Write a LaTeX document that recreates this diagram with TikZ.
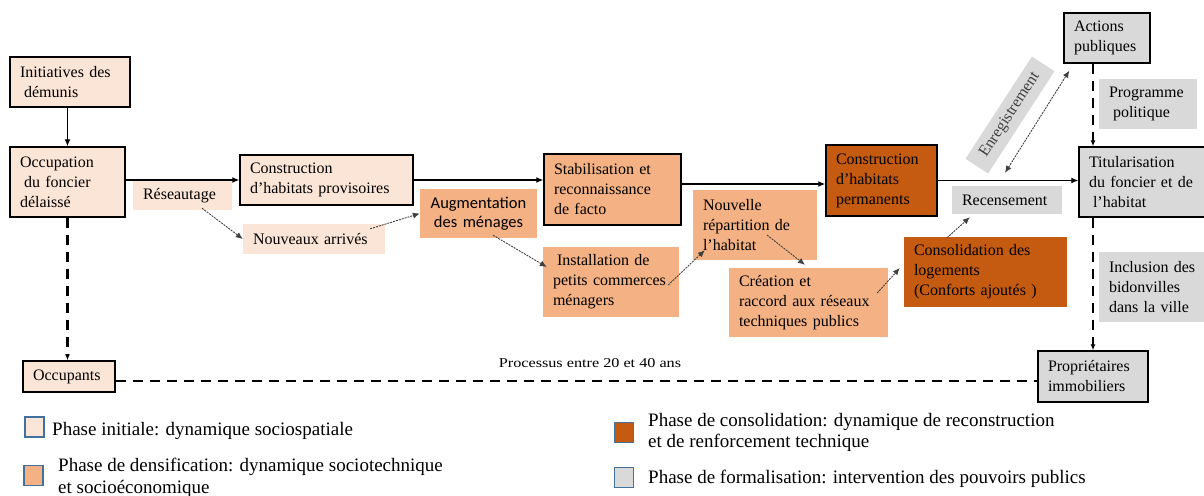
\documentclass[tikz,border=0pt]{standalone}
\usepackage{fontspec}
\setmainfont{Liberation Serif}
\newfontfamily\calib{Carlito}
\newfontfamily\widefont[FakeStretch=1.2]{Liberation Serif}
\usetikzlibrary{arrows.meta,calc}
\definecolor{cInit}{HTML}{FBE5D6}
\definecolor{cDens}{HTML}{F4B183}
\definecolor{cCons}{HTML}{C55A11}
\definecolor{cForm}{HTML}{D9D9D9}
\definecolor{cLeg}{HTML}{41719C}
\definecolor{cDot}{HTML}{404040}
\tikzset{
  box/.style={inner xsep=10pt, inner ysep=0pt, align=left, anchor=center,
    font=\fontsize{16}{20}\selectfont},
  framed/.style={draw=black, line width=1.4pt},
  initbox/.style={box, fill=cInit},
  densbox/.style={box, fill=cDens},
  consbox/.style={box, fill=cCons},
  formbox/.style={box, fill=cForm},
  solidarr/.style={line width=1.3pt, -{Latex[length=7pt,width=6pt]}},
  dotarr/.style={line width=0.9pt, draw=cDot, dash pattern=on 2pt off 1pt, -{Latex[length=7pt,width=6pt]}},
  dotdbl/.style={line width=0.9pt, draw=cDot, dash pattern=on 2pt off 1pt, {Latex[length=7pt,width=6pt]}-{Latex[length=7pt,width=6pt]}},
  thickdash/.style={line width=2.4pt, dash pattern=on 10pt off 7pt},
  thickdasharr/.style={thickdash, -{Latex[length=6pt,width=5pt]}},
  legsq/.style={draw=cLeg, line width=1.2pt, minimum width=19pt, minimum height=20pt, inner sep=0pt},
  legtext/.style={inner sep=0pt, align=left, font=\fontsize{19}{21.5}\selectfont},
}
\begin{document}
\begin{tikzpicture}[x=1pt,y=-1pt]
\useasboundingbox (0,0) rectangle (1204,495);

% ---- nodes ----
\node[initbox, framed, text width=100pt, minimum height=50pt] (ini) at (70,82) {Initiatives~des\\\hspace*{4pt}démunis};
\node[initbox, framed, text width=95pt, minimum height=70pt] (occ) at (67.5,182) {Occupation\\\hspace*{4pt}du~foncier\\délaissé};
\node[initbox, text width=79pt, minimum height=29pt] (res) at (182.5,195.5) {Réseautage};
\node[initbox, framed, text width=153pt, minimum height=50pt] (cprov) at (326.5,180) {Construction\\d’habitats~provisoires};
\node[initbox, text width=122pt, minimum height=30pt] (nouv) at (314,239) {Nouveaux~arrivés};

\node[densbox, text width=97pt, minimum height=49pt, align=center,
      font=\calib\fontsize{16.5}{18.5}\selectfont] (aug) at (478.5,213.5) {Augmentation\\des~ménages};
\node[densbox, framed, text width=117pt, minimum height=71pt] (stab) at (612.5,189.5) {Stabilisation~et\\reconnaissance\\de~facto};
\node[densbox, text width=116pt, minimum height=70pt] (inst) at (611,282) {\hspace*{4pt}Installation~de\\petits~commerces\\ménagers};
\node[densbox, text width=104pt, minimum height=70pt] (nouvrep) at (755,225) {Nouvelle\\répartition~de\\l’habitat};
\node[densbox, text width=139pt, minimum height=69pt] (crea) at (808.5,302.5) {Création~et\\raccord~aux~réseaux\\techniques~publics};

\node[consbox, framed, text width=91pt, minimum height=71pt] (cperm) at (881.5,180.5) {Construction\\d’habitats\\permanents};
\node[consbox, text width=143pt, minimum height=70pt] (consol) at (985.5,272) {Consolidation~des\\logements\\(Conforts~ajoutés~)};

\node[formbox, text width=90pt, minimum height=28pt] (recens) at (1007,200) {Recensement};
\node[formbox, framed, text width=66pt, minimum height=50pt] (act) at (1107,38) {Actions\\publiques};
\node[formbox, text width=78pt, minimum height=50pt] (prog) at (1148,104) {Programme\\\hspace*{4pt}politique};
\node[formbox, framed, text width=111pt, minimum height=70pt] (tit) at (1144.5,182) {Titularisation\\du~foncier~et~de\\\hspace*{4pt}l’habitat};
\node[formbox, text width=91pt, minimum height=70pt] (incl) at (1154.5,287) {Inclusion~des\\bidonvilles\\dans~la~ville};
\node[fill=cForm, rotate=57, minimum width=122pt, minimum height=27pt, inner sep=0pt,
      text=black!75, font=\fontsize{16}{20}\selectfont] (enreg) at (1010,115) {Enregistrement};

\node[initbox, framed, text width=72pt, minimum height=31pt] (occu) at (69,376.5) {Occupants};
\node[formbox, framed, text width=90pt, minimum height=51pt] (prop) at (1093,376.5) {Propriétaires\\immobiliers};

\node[anchor=base, inner sep=0pt, font=\widefont\fontsize{13.5}{16}\selectfont] (proc) at (590,367) {Processus entre 20 et 40 ans};

% ---- connectors ----
\draw[solidarr] (ini.south -| occ.north) -- (occ.north);
\draw[solidarr] (occ.east |- cprov.west) -- (cprov.west);
\draw[solidarr] (cprov.east) -- (cprov.east -| stab.west);
\coordinate (s2) at ($(stab.east)+(0,-5.5)$);
\draw[solidarr] (s2) -- (s2 -| cperm.west);
\draw[solidarr] (cperm.east) -- (cperm.east -| tit.west);

\draw[thickdasharr] (act.south -| prop.north) -- (tit.north -| prop.north);
\draw[thickdasharr] (tit.south -| prop.north) -- (prop.north);
\draw[thickdasharr] (occ.south) -- (occ.south |- occu.north);
\coordinate (o2) at ($(occu.east)+(0,4.5)$);
\draw[thickdash] (o2) -- (o2 -| prop.west);

\draw[dotarr] ($(res.south)+(19.5,-2)$) -- (nouv.west);
\draw[dotarr] ($(nouv.north east)+(-15,5)$) -- (aug.west);
\draw[dotarr] ($(aug.south)+(14.5,-3)$) -- ($(inst.west)+(4,-15)$);
\draw[dotarr] ($(inst.east)+(-11,3)$) -- ($(nouvrep.south west)+(12,-10)$);
\draw[dotarr] ($(nouvrep.center)+(12,10)$) -- ($(crea.north)+(-3.5,-3)$);
\draw[dotarr] ($(crea.east)+(-11,-9.5)$) -- ($(consol.west)+(-4,-4)$);
\draw[dotarr] ($(consol.north)+(-38.5,1)$) -- ($(recens.south west)+(18,3)$);
\draw[dotdbl] ($(recens.north)+(-2,-13)$) -- ($(act.south west)+(6,7)$);

% ---- legend ----
\node[legsq, fill=cInit] (lsq1) at (34.5,427) {};
\node[legtext, anchor=base west] (ltx1) at (52,435) {Phase initiale: dynamique sociospatiale};
\node[legsq, fill=cDens] (lsq2) at (33.5,475.5) {};
\node[legtext, anchor=north west] (ltx2) at (58,458) {Phase de densification: dynamique sociotechnique\\et socioéconomique};
\node[legsq, fill=cCons] (lsq3) at (624,432.5) {};
\node[legtext, anchor=north west] (ltx3) at (648,413) {Phase de consolidation: dynamique de reconstruction\\et de renforcement technique};
\node[legsq, fill=cForm] (lsq4) at (624,477.5) {};
\node[legtext, anchor=base west] (ltx4) at (648,483) {Phase de formalisation: intervention des pouvoirs publics};
\end{tikzpicture}
\end{document}
